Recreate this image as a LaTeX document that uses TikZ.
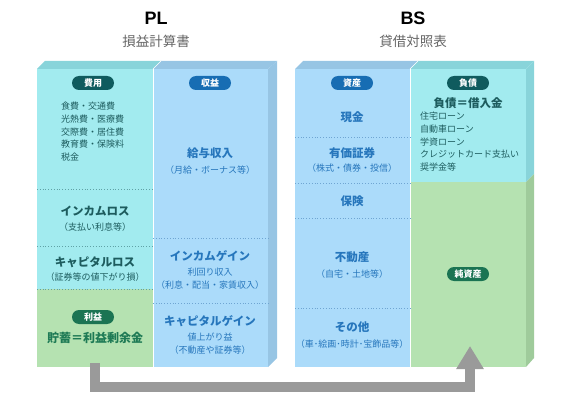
\documentclass[tikz,border=0pt]{standalone}
\usepackage{fontspec}
\setmainfont{Noto Sans CJK JP}
\newfontfamily\titlefont{Liberation Sans}
\usetikzlibrary{arrows.meta}
\definecolor{cyanFace}{HTML}{A2EBEF}
\definecolor{cyanTop}{HTML}{88D4DA}
\definecolor{blueFace}{HTML}{ABDBFA}
\definecolor{blueTop}{HTML}{97C5E4}
\definecolor{greenFace}{HTML}{B5E2B1}
\definecolor{greenSide}{HTML}{9FCB9B}
\definecolor{tealDark}{HTML}{0F5B5E}
\definecolor{blueDark}{HTML}{176DB3}
\definecolor{greenDark}{HTML}{1B7453}
\definecolor{tealText}{HTML}{1D5C5E}
\definecolor{blueText}{HTML}{2676BC}
\definecolor{greenText}{HTML}{1E7A55}
\definecolor{tealDot}{HTML}{5FA2A6}
\definecolor{blueDot}{HTML}{6FA5D2}
\definecolor{arrowGray}{HTML}{9A9A9A}
\tikzset{
  badge/.style={rounded corners=7pt, minimum width=42pt, minimum height=14pt, inner sep=0pt, text=white, font=\fontsize{9}{9}\selectfont\bfseries},
  head/.style={font=\fontsize{11.5}{12}\selectfont\bfseries, inner sep=0pt},
  sub/.style={font=\fontsize{9}{10}\selectfont, inner sep=0pt},
  listtext/.style={font=\fontsize{9}{12.7}\selectfont, inner sep=0pt, align=left, anchor=north west},
  sepline/.style={dotted, line width=0.8pt},
  maintitle/.style={font=\titlefont\fontsize{18}{18}\selectfont\bfseries, inner sep=0pt},
  subtitle/.style={font=\fontsize{13.5}{13.5}\selectfont, text=black!60, inner sep=0pt},
}
\begin{document}
\begin{tikzpicture}[x=1pt,y=-1pt]
\useasboundingbox (0,0) rectangle (568,404);
% ---------- titles
\node[maintitle] (pltitle) at (156,18) {PL};
\node[subtitle] (plsub) at (156,41) {損益計算書};
\node[maintitle] (bstitle) at (413,18) {BS};
\node[subtitle] (bssub) at (413,41) {貸借対照表};

% ---------- PL block
\fill[cyanTop] (37,69) -- (45,61) -- (161,61) -- (153,69) -- cycle;
\fill[blueTop] (153,69) -- (161,61) -- (277,61) -- (268,69) -- cycle;
\fill[blueTop] (268,69) -- (277,61) -- (277,358) -- (268,367) -- cycle;
\fill[cyanFace] (37,69) rectangle (153,289);
\fill[greenFace] (37,289) rectangle (153,367);
\fill[blueFace] (153,69) rectangle (268,367);
\draw[white, line width=0.6pt] (153,69) -- (153,367);
\draw[white, line width=0.6pt] (153,69) -- (161,61);
\draw[sepline, tealDot] (37,189) -- (153,189);
\draw[sepline, tealDot] (37,246) -- (153,246);
\draw[sepline, tealDot] (37,289) -- (153,289);
\draw[sepline, blueDot] (153,238) -- (268,238);
\draw[sepline, blueDot] (153,303) -- (268,303);

% ---------- BS block
\fill[blueTop] (295,69) -- (303,61) -- (418,61) -- (410,69) -- cycle;
\fill[cyanTop] (410,69) -- (418,61) -- (534,61) -- (526,69) -- cycle;
\fill[cyanTop] (526,69) -- (534,61) -- (534,174) -- (526,182) -- cycle;
\fill[greenSide] (526,182) -- (534,174) -- (534,358) -- (526,367) -- cycle;
\fill[blueFace] (295,69) rectangle (410,367);
\fill[cyanFace] (410,69) rectangle (526,182);
\fill[greenFace] (410,182) rectangle (526,367);
\draw[white, line width=0.6pt] (410,69) -- (410,367);
\draw[white, line width=0.6pt] (410,69) -- (418,61);
\draw[sepline, blueDot] (295,137) -- (410,137);
\draw[sepline, blueDot] (295,183) -- (410,183);
\draw[sepline, blueDot] (295,218) -- (410,218);
\draw[sepline, blueDot] (295,308) -- (410,308);

% ---------- arrow
\coordinate (arrowfrom) at (95,363);
\coordinate (arrowto) at (470,346);
\draw[arrowGray, line width=10pt, line join=miter, -{Triangle[width=26pt,length=23pt]}]
  (arrowfrom) -- ++(0,24) -| (arrowto);

% ---------- PL texts
\node[badge, fill=tealDark] (hiyou) at (93,83) {費用};
\node[listtext, text=tealText] (hiyoulist) at (61,102) {食費・交通費\\光熱費・医療費\\交際費・居住費\\教育費・保険料\\税金};
\node[head, text=tealText] (incloss) at (95,211) {インカムロス};
\node[sub, text=tealText] (inclosssub) at (95,227) {（支払い利息等）};
\node[head, text=tealText] (caploss) at (95,262) {キャピタルロス};
\node[sub, text=tealText] (caplosssub) at (95,277) {（証券等の値下がり損）};
\node[badge, fill=greenDark] (rieki) at (93,317) {利益};
\node[head, text=greenText, font=\fontsize{12}{12}\selectfont\bfseries] (chochiku) at (95,338) {貯蓄＝利益剰余金};

\node[badge, fill=blueDark] (shueki) at (210,83) {収益};
\node[head, text=blueText] (kyuyo) at (210,153) {給与収入};
\node[sub, text=blueText] (kyuyosub) at (210,170) {（月給・ボーナス等）};
\node[head, text=blueText] (incgain) at (210,256) {インカムゲイン};
\node[sub, text=blueText] (incgain1) at (210,272) {利回り収入};
\node[sub, text=blueText] (incgain2) at (210,285) {（利息・配当・家賃収入）};
\node[head, text=blueText] (capgain) at (210,321) {キャピタルゲイン};
\node[sub, text=blueText] (capgain1) at (210,337) {値上がり益};
\node[sub, text=blueText] (capgain2) at (210,350) {（不動産や証券等）};

% ---------- BS texts
\node[badge, fill=blueDark] (shisan) at (352,83) {資産};
\node[head, text=blueText] (genkin) at (352,117) {現金};
\node[head, text=blueText] (yuka) at (352,153) {有価証券};
\node[sub, text=blueText] (yukasub) at (352,168) {（株式・債券・投信）};
\node[head, text=blueText] (hoken) at (352,201) {保険};
\node[head, text=blueText] (fudosan) at (352,257) {不動産};
\node[sub, text=blueText] (fudosansub) at (352,274) {（自宅・土地等）};
\node[head, text=blueText] (sonota) at (352,327) {その他};
\node[sub, text=blueText] (sonotasub) at (352,344) {（車･絵画･時計･宝飾品等）};

\node[badge, fill=tealDark] (fusai) at (468,83) {負債};
\node[head, text=tealText] (fusaihead) at (468,103) {負債＝借入金};
\node[listtext, text=tealText] (fusailist) at (420,112) {住宅ローン\\自動車ローン\\学資ローン\\クレジットカード支払い\\奨学金等};
\node[badge, fill=greenDark] (junshisan) at (468,274) {純資産};
\end{tikzpicture}
\end{document}
